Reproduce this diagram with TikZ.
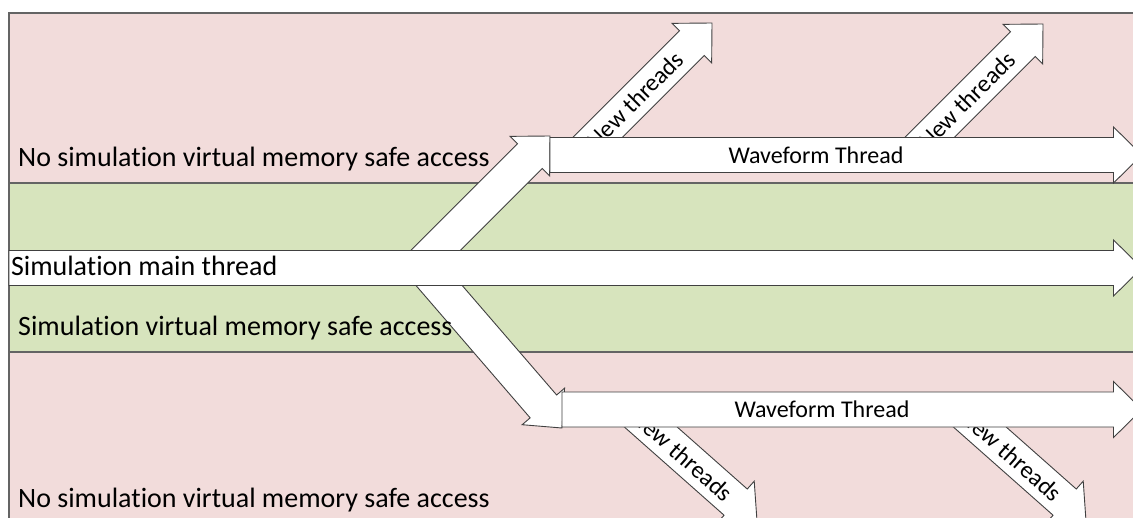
\documentclass[tikz,border=0pt]{standalone}
\usepackage{fontspec}
\setmainfont{Carlito}[Ligatures=CommonOff]
\usetikzlibrary{calc}

\definecolor{unsafefill}{HTML}{F2DCDB}
\definecolor{safefill}{HTML}{D7E4BD}
\definecolor{bandline}{RGB}{100,100,100}
\definecolor{arrowline}{RGB}{64,64,64}

\tikzset{
  band/.style={draw=bandline, line width=1.6pt},
  threadbody/.style={fill=white, draw=arrowline, line width=0.9pt, line join=miter},
  zonelabel/.style={anchor=base west, inner sep=0pt, font=\fontsize{28}{33}\selectfont},
  wavelabel/.style={inner sep=0pt, font=\fontsize{24}{28}\selectfont},
  spawnlabel/.style={inner sep=0pt, sloped, font=\fontsize{24.3}{29}\selectfont},
}

% block arrow: #1 name, #2 tail point, #3 tip point
\newcommand{\threadarrow}[3]{%
  \coordinate (#1-b) at ($(#3)!28.5pt!(#2)$);
  \draw[threadbody] ($(#2)!17.5pt!90:(#3)$) -- ($(#1-b)!17.5pt!90:(#3)$)
    -- ($(#1-b)!28pt!90:(#3)$) -- (#3) -- ($(#1-b)!28pt!-90:(#3)$)
    -- ($(#1-b)!17.5pt!-90:(#3)$) -- ($(#2)!17.5pt!-90:(#3)$) -- cycle;}

\begin{document}
\begin{tikzpicture}[x=1pt,y=-1pt]
\useasboundingbox (0,0) rectangle (1133,517);
\begin{scope}
\clip (0,0) rectangle (1133,517);

% memory access zones
\fill[unsafefill] (9,13) rectangle (1140,183);
\fill[safefill] (9,183) rectangle (1140,352);
\fill[unsafefill] (9,352) rectangle (1140,525);
\draw[band] (1140,13) -- (9,13) -- (9,525);
\draw[band] (9,183) -- (1140,183);
\draw[band] (9,352) -- (1140,352);

% arrow end points
\coordinate (main-s) at (9,268);
\coordinate (main-t) at (1142,268);
\coordinate (wu-s) at (550,155);
\coordinate (wu-t) at (1142,155);
\coordinate (wl-s) at (562,409.5);
\coordinate (wl-t) at (1142,409.5);
\coordinate (du-s) at (418,268);
\coordinate (du-t) at (550,136);
\coordinate (dl-s) at (424,268);
\coordinate (dl-t) at (562,428);
\coordinate (n1-s) at (580,155);
\coordinate (n1-t) at (712,23);
\coordinate (n2-s) at (912,155);
\coordinate (n2-t) at (1043,24);
\coordinate (n3-s) at (631,409.5);
\coordinate (n3-t) at (757,521);
\coordinate (n4-s) at (960,409.5);
\coordinate (n4-t) at (1086,521);

% spawned threads
\threadarrow{n1}{n1-s}{n1-t}
\path (n1-s) -- (n1-t) node[spawnlabel, pos=0.417] {New threads};
\threadarrow{n2}{n2-s}{n2-t}
\path (n2-s) -- (n2-t) node[spawnlabel, pos=0.417] {New threads};
\threadarrow{n3}{n3-s}{n3-t}
\path (n3-s) -- (n3-t) node[spawnlabel, pos=0.408] {New threads};
\threadarrow{n4}{n4-s}{n4-t}
\path (n4-s) -- (n4-t) node[spawnlabel, pos=0.408] {New threads};

% branches off the main thread
\threadarrow{du}{du-s}{du-t}
\threadarrow{dl}{dl-s}{dl-t}

% waveform threads
\threadarrow{wu}{wu-s}{wu-t}
\node[wavelabel, text height=16pt, text depth=0pt] (wulabel) at (816,155) {Waveform Thread};
\threadarrow{wl}{wl-s}{wl-t}
\node[wavelabel, text height=16pt, text depth=0pt] (wllabel) at (822,409.5) {Waveform Thread};

% main thread
\threadarrow{main}{main-s}{main-t}
\node[fill=white, inner xsep=1pt, inner ysep=0pt, anchor=west, minimum height=34pt,
      text height=17pt, text depth=2pt, font=\fontsize{28}{33}\selectfont]
      (mainlabel) at (9.8,268) {Simulation main thread};

% zone captions
\node[zonelabel] (toplabel) at (18,166) {No simulation virtual memory safe access};
\node[zonelabel] (midlabel) at (18,335) {Simulation virtual memory safe access};
\node[zonelabel] (botlabel) at (18,507) {No simulation virtual memory safe access};
\end{scope}
\end{tikzpicture}
\end{document}
